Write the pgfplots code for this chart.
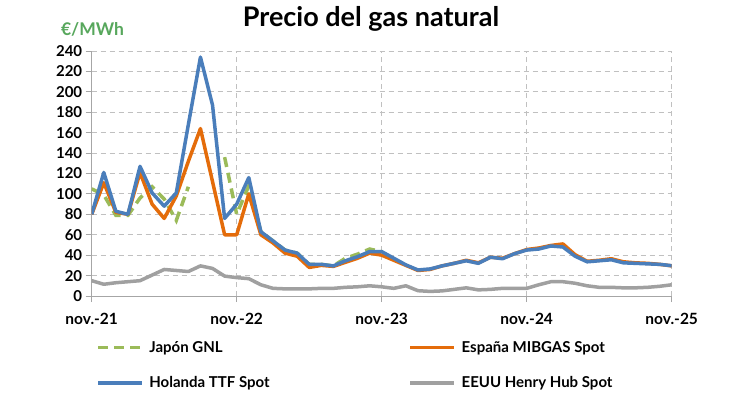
\documentclass[border=0pt]{standalone}
\usepackage{fontspec}
\setmainfont{Lato}
\usepackage{pgfplots}
\pgfplotsset{compat=1.18}
\definecolor{ttf}{RGB}{74,126,187}
\definecolor{mib}{RGB}{228,108,10}
\definecolor{jap}{RGB}{155,187,89}
\definecolor{hh}{RGB}{160,160,160}
\definecolor{gridc}{RGB}{192,192,192}
\definecolor{axc}{RGB}{166,166,166}
\definecolor{unitc}{RGB}{87,167,92}
\begin{document}
\begin{tikzpicture}[x=1pt,y=1pt]
\useasboundingbox (0,0) rectangle (750,400);
\node[font=\fontsize{27}{31}\selectfont\bfseries] at (371,381) {Precio del gas natural};
\node[font=\fontsize{17.5}{21}\selectfont\bfseries, text=unitc] at (92.5,371) {€/MWh};
\begin{axis}[
  at={(91.7pt,104pt)}, anchor=south west,
  scale only axis, width=580pt, height=245pt,
  xmin=0, xmax=48, ymin=0, ymax=240,
  unbounded coords=jump,
  axis x line*=bottom, axis y line*=left,
  axis line style={draw=axc, line width=1pt, -},
  xtick={0,12,24,36,48},
  xticklabels={nov.-21,nov.-22,nov.-23,nov.-24,nov.-25},
  ytick={0,20,...,240},
  tick align=outside, major tick length=6pt,
  tick style={draw=axc, line width=1pt},
  xmajorgrids, ymajorgrids,
  grid style={draw=gridc, line width=1pt, dash pattern=on 5pt off 4pt},
  /pgf/number format/assume math mode=true,
  ticklabel style={font=\fontsize{15}{18}\selectfont\bfseries},
  xticklabel style={font=\fontsize{15.5}{18}\selectfont\bfseries, yshift=-8pt},
  legend cell align=left,
  legend columns=2,
  legend image code/.code={\draw[#1] (0pt,0pt) -- (44pt,0pt);},
  legend style={draw=none, fill=none, at={(0,0)}, anchor=north west,
    xshift=1.5pt, yshift=-41pt, row sep=19pt,
    font=\fontsize{15}{18}\selectfont\bfseries,
    /tikz/every odd column/.append style={column sep=3.5pt},
    /tikz/every even column/.append style={column sep=137pt}},
]
\addplot[jap, line width=3.5pt, dash pattern=on 10pt off 6pt] coordinates {
(0,105)(1,99)(2,79)(3,79)(4,96)(5,107)(6,95)(7,74)(8,107)(9,nan)(10,nan)
(11,136)(12,80)(13,108)(14,63)(15,54)(16,45)(17,42)(18,31)(19,31)(20,29.5)
(21,37)(22,41)(23,46)(24,43.5)};
\addlegendentry{Japón GNL}
\addplot[mib, line width=3.5pt, line join=round] coordinates {
(0,80)(1,111)(2,82)(3,80)(4,121)(5,90)(6,76)(7,98)(8,132)(9,164)(10,112)
(11,60)(12,60)(13,100)(14,60)(15,52)(16,42)(17,39)(18,28)(19,30)(20,29)
(21,33)(22,37)(23,42)(24,40)(25,35)(26,30)(27,25)(28,26)(29,29.5)(30,32)
(31,35)(32,32.5)(33,38)(34,37)(35,41.5)(36,45.5)(37,47)(38,49.5)(39,51)
(40,40.5)(41,34)(42,35)(43,36.5)(44,33.5)(45,32.5)(46,32)(47,31)(48,29.5)};
\addlegendentry{España MIBGAS Spot}
\addplot[ttf, line width=3.5pt, line join=round] coordinates {
(0,80)(1,121)(2,83)(3,80)(4,127)(5,101)(6,88)(7,101)(8,168)(9,234)(10,187)
(11,76)(12,90)(13,116)(14,63)(15,54)(16,45)(17,42)(18,31)(19,31)(20,29.5)
(21,34.5)(22,38.5)(23,43.5)(24,43.5)(25,37)(26,30.5)(27,25.5)(28,26.5)(29,29.5)(30,32)
(31,34.5)(32,32)(33,38)(34,36.5)(35,41.5)(36,45)(37,46)(38,49)(39,48)
(40,39)(41,33.5)(42,34.5)(43,35.5)(44,32.5)(45,32)(46,31.5)(47,31)(48,29.7)};
\addlegendentry{Holanda TTF Spot}
\addplot[hh, line width=3.5pt, line join=round] coordinates {
(0,15)(1,11.5)(2,13)(3,14)(4,15)(5,20.5)(6,26)(7,25)(8,24)(9,29.5)(10,27)
(11,19.5)(12,18)(13,17)(14,11)(15,7.5)(16,7)(17,7)(18,7)(19,7.5)(20,7.5)
(21,8.5)(22,9)(23,10)(24,9)(25,7.5)(26,10)(27,5.2)(28,4.5)(29,5)(30,6.5)
(31,8)(32,6)(33,6.5)(34,7.5)(35,7.5)(36,7.5)(37,11)(38,14)(39,14)
(40,12.5)(41,10)(42,8.5)(43,8.5)(44,8)(45,8)(46,8.5)(47,9.5)(48,11)};
\addlegendentry{EEUU Henry Hub Spot}
\end{axis}
\end{tikzpicture}
\end{document}
